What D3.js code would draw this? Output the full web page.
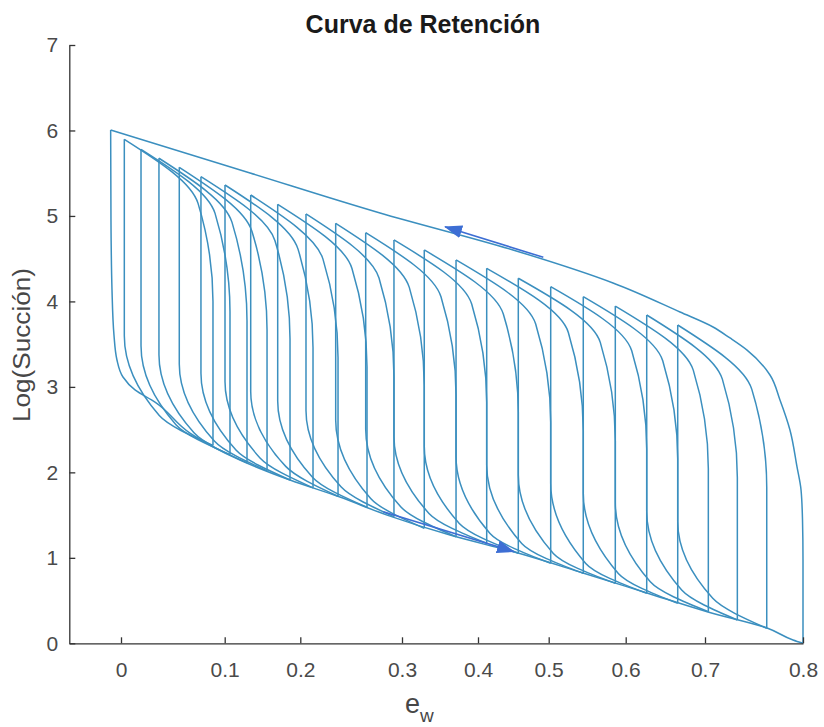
<!DOCTYPE html>
<html>
<head>
<meta charset="utf-8">
<script src="https://cdn.jsdelivr.net/npm/d3@7"></script>
<style>
  body { margin: 0; background: #fff; }
  text { font-family: "Liberation Sans", Arial, Helvetica, sans-serif; }
</style>
</head>
<body>
<div id="chart"></div>
<script>
// axis ticks
var xTicks = [0, 0.1, 0.2, 0.3, 0.4, 0.5, 0.6, 0.7, 0.8];
var yTicks = [0, 1, 2, 3, 4, 5, 6, 7];

// main drying curve (bottom right -> top left)
var dryE = [0.8, 0.8, 0.7995, 0.798, 0.7939, 0.7867, 0.7765, 0.7663, 0.7429, 0.7255, 0.7082, 0.6685, 0.5835, 0.4495, 0.2784, 0.1335, -0.01];
var dryS = [0, 0.975, 1.443, 1.794, 2.063, 2.496, 2.847, 3.139, 3.431, 3.572, 3.701, 3.876, 4.216, 4.602, 5.035, 5.503, 6.006];

// main wetting curve (top left -> bottom right)
var wetE = [-0.01, -0.0097, -0.0087, -0.0068, -0.0039, 0.0019, 0.0135, 0.0328, 0.0665, 0.1202, 0.1864, 0.2390, 0.2853, 0.3632, 0.4566, 0.5445, 0.6269, 0.7031, 0.7633, 0.7898, 0.8];
var wetS = [6.006, 4.953, 4.134, 3.607, 3.315, 3.116, 2.964, 2.823, 2.460, 2.144, 1.910, 1.711, 1.500, 1.266, 1.056, 0.823, 0.589, 0.366, 0.179, 0.039, 0];

// scanning loops: upper reversal points
var topE = [0.0032, 0.0193, 0.0366, 0.0562, 0.0771, 0.1004, 0.1344, 0.1701, 0.2056, 0.2348, 0.2643, 0.2921, 0.3293, 0.3711, 0.4123, 0.4570, 0.5026, 0.5449, 0.5865, 0.6265, 0.6656];
var topS = [5.897, 5.780, 5.675, 5.569, 5.459, 5.362, 5.245, 5.136, 5.023, 4.914, 4.804, 4.719, 4.602, 4.485, 4.387, 4.271, 4.172, 4.055, 3.946, 3.841, 3.724];
// lower reversal points, on the main wetting curve
var botE = [0.0887, 0.1070, 0.1295, 0.1560, 0.1864, 0.2125, 0.2371, 0.2656, 0.2921, 0.3293, 0.3711, 0.4123, 0.4570, 0.5026, 0.5449, 0.5865, 0.6265, 0.6656, 0.7034, 0.7330, 0.7630];
var botS = [2.315, 2.208, 2.112, 2.018, 1.911, 1.819, 1.720, 1.591, 1.481, 1.345, 1.247, 1.170, 1.053, 0.936, 0.819, 0.702, 0.585, 0.468, 0.370, 0.273, 0.176];
// drying branch: end of the steep rise and the knee
var dryMidS = [3.997, 3.880, 3.775, 3.669, 3.559, 3.462, 3.345, 3.236, 3.123, 3.014, 2.904, 2.819, 2.702, 2.585, 2.487, 2.371, 2.272, 2.155, 2.046, 1.941, 1.824];
var dryKneeE = [0.0743, 0.0907, 0.1097, 0.1361, 0.1665, 0.1970, 0.2223, 0.2508, 0.2774, 0.3096, 0.3513, 0.3917, 0.4358, 0.4816, 0.5255, 0.5670, 0.6076, 0.6467, 0.6852, 0.7177, 0.7477];
var dryKneeS = [5.147, 5.030, 4.925, 4.819, 4.709, 4.612, 4.495, 4.386, 4.273, 4.164, 4.054, 3.969, 3.852, 3.735, 3.637, 3.521, 3.422, 3.305, 3.196, 3.091, 2.974];
// wetting branch: end of the steep drop and the bend
var wetDropS = [3.597, 3.480, 3.375, 3.269, 3.159, 3.062, 2.945, 2.836, 2.723, 2.614, 2.504, 2.419, 2.302, 2.185, 2.087, 1.971, 1.872, 1.755, 1.646, 1.541, 1.424];
var wetBendE = [0.0369, 0.0530, 0.0704, 0.0900, 0.1149, 0.1467, 0.1807, 0.2122, 0.2400, 0.2692, 0.2987, 0.3355, 0.3754, 0.4170, 0.4618, 0.5060, 0.5481, 0.5904, 0.6310, 0.6706, 0.7079];
var wetBendS = [2.665, 2.558, 2.462, 2.368, 2.261, 2.169, 2.070, 1.941, 1.831, 1.695, 1.597, 1.520, 1.403, 1.286, 1.169, 1.052, 0.935, 0.818, 0.720, 0.623, 0.526];

// direction arrows [e, s] start -> tip
var arrowDry = [[0.4924, 4.516], [0.3566, 4.874]];
var arrowWet = [[0.2816, 1.540], [0.4509, 1.072]];

var width = 824, height = 727;
var margin = {top: 45, right: 21, bottom: 83.7, left: 69.3};
var innerH = height - margin.top - margin.bottom;
// pixel stops of the e axis (left edge, then each tick)
var xStops = [0, 51.7, 155.4, 231, 332.7, 408.7, 479.4, 556.4, 635.7, 733.7];

var x = d3.scaleLinear()
  .domain([-0.05].concat(xTicks))
  .range(xStops);
var y = d3.scaleLinear()
  .domain([0, 7])
  .range([innerH, 0]);

var svg = d3.select("#chart").append("svg")
  .attr("width", width)
  .attr("height", height);

var defs = svg.append("defs");
defs.append("marker")
  .attr("id", "head")
  .attr("viewBox", "0 0 18 13")
  .attr("refX", 17)
  .attr("refY", 6.5)
  .attr("markerWidth", 18)
  .attr("markerHeight", 13)
  .attr("markerUnits", "userSpaceOnUse")
  .attr("orient", "auto")
  .append("path")
  .attr("d", "M0,0L18,6.5L0,13Z")
  .attr("fill", "#3d6ed4");

var g = svg.append("g")
  .attr("transform", "translate(" + margin.left + "," + margin.top + ")");

var line = d3.line()
  .x(function (d) { return x(d[0]); })
  .y(function (d) { return y(d[1]); })
  .curve(d3.curveMonotoneY);

function zip(a, b) {
  return a.map(function (v, i) { return [v, b[i]]; });
}

var curves = [zip(wetE, wetS), zip(dryE, dryS)];
topE.forEach(function (e, i) {
  // drying branch from the wetting curve up to the upper reversal point
  curves.push([[botE[i], botS[i]], [botE[i], dryMidS[i]], [dryKneeE[i], dryKneeS[i]], [topE[i], topS[i]]]);
  // wetting branch back down to the wetting curve
  curves.push([[topE[i], topS[i]], [topE[i], wetDropS[i]], [wetBendE[i], wetBendS[i]], [botE[i], botS[i]]]);
});

g.append("g").selectAll("path")
  .data(curves)
  .enter().append("path")
  .attr("d", line)
  .attr("fill", "none")
  .attr("stroke", "#3b8fbf")
  .attr("stroke-width", 1.5);

// axes
var xAxis = d3.axisBottom(x)
  .tickValues(xTicks)
  .tickFormat(function (d) { return d === 0 ? "0" : d3.format(".1f")(d); })
  .tickSizeInner(-6)
  .tickSizeOuter(0)
  .tickPadding(19);
var yAxis = d3.axisLeft(y)
  .tickValues(yTicks)
  .tickFormat(d3.format("d"))
  .tickSizeInner(-6)
  .tickSizeOuter(0)
  .tickPadding(11);

var gx = g.append("g")
  .attr("transform", "translate(0," + innerH + ")")
  .call(xAxis);
var gy = g.append("g").call(yAxis);

[gx, gy].forEach(function (a) {
  a.selectAll("path, line").attr("stroke", "#333").attr("stroke-width", 1.3);
  a.selectAll("text").attr("fill", "#4a4a4a").style("font-size", "21px");
});

// arrows
g.selectAll(".arrow")
  .data([arrowDry, arrowWet])
  .enter().append("line")
  .attr("class", "arrow")
  .attr("x1", function (d) { return x(d[0][0]); })
  .attr("y1", function (d) { return y(d[0][1]); })
  .attr("x2", function (d) { return x(d[1][0]); })
  .attr("y2", function (d) { return y(d[1][1]); })
  .attr("stroke", "#3d6ed4")
  .attr("stroke-width", 1.6)
  .attr("marker-end", "url(#head)");

// title and labels
svg.append("text")
  .attr("x", 423)
  .attr("y", 33)
  .attr("text-anchor", "middle")
  .style("font-size", "25px")
  .style("font-weight", "bold")
  .attr("fill", "#1a1a1a")
  .text("Curva de Retención");

svg.append("text")
  .attr("transform", "translate(30,345) rotate(-90)")
  .attr("text-anchor", "middle")
  .style("font-size", "23px")
  .attr("fill", "#474747")
  .attr("textLength", 154)
  .attr("lengthAdjust", "spacingAndGlyphs")
  .text("Log(Succión)");

var xl = svg.append("text")
  .attr("x", 405)
  .attr("y", 713)
  .attr("fill", "#474747")
  .style("font-size", "27px");
xl.append("tspan").text("e");
xl.append("tspan")
  .attr("dy", 9)
  .style("font-size", "19px")
  .text("w");
</script>
</body>
</html>
